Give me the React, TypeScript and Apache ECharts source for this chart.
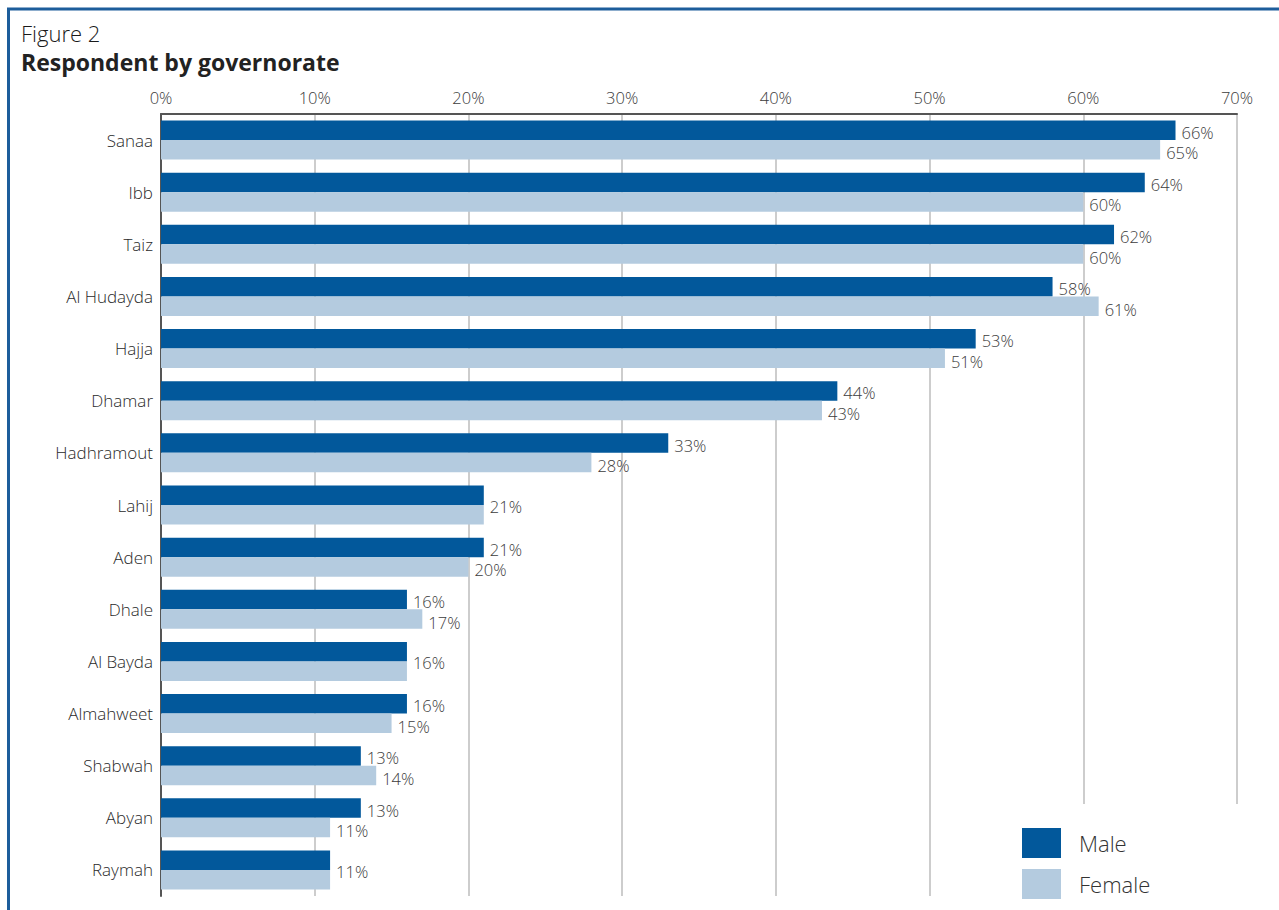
import React, { useEffect, useRef } from "react";
import * as echarts from "echarts";

const categories = [
  "Sanaa", "Ibb", "Taiz", "Al Hudayda", "Hajja", "Dhamar", "Hadhramout", "Lahij",
  "Aden", "Dhale", "Al Bayda", "Almahweet", "Shabwah", "Abyan", "Raymah",
];
const male = [66, 64, 62, 58, 53, 44, 33, 21, 21, 16, 16, 16, 13, 13, 11];
const female = [65, 60, 60, 61, 51, 43, 28, 21, 20, 17, 16, 15, 14, 11, 11];
const xMin = 0;
const xMax = 70;
const xStep = 10;

const FONT = "'Open Sans', 'Noto Sans', sans-serif";
const DARK = "#02589B";
const LIGHT = "#B4CBDF";
const LABEL = "#3c3c3c";

export default function App() {
  const ref = useRef<HTMLDivElement>(null);
  useEffect(() => {
    if (!ref.current) return;
    const chart = echarts.init(ref.current, undefined, { renderer: "svg" });
    const same = male.map((m, i) => m === female[i]);
    const maleData = male.map((v, i) => ({
      value: v,
      label: { offset: same[i] ? [0, 11] : [0, 2] },
    }));
    const femaleData = female.map((v, i) => ({
      value: v,
      label: { show: !same[i], offset: [0, 3] },
    }));
    const labelCommon = {
      show: true,
      position: "right",
      distance: 6,
      color: LABEL,
      fontSize: 16.5,
      fontWeight: 300,
      fontFamily: FONT,
      formatter: (p: any) => `${p.value}%`,
    };
    chart.setOption({
      animation: false,
      textStyle: { fontFamily: FONT },
      title: [
        {
          text: "Figure 2",
          left: 21,
          top: 22,
          padding: 0,
          textStyle: { fontSize: 22, fontWeight: 300, color: "#1a1a1a", fontFamily: FONT },
        },
        {
          text: "Respondent by governorate",
          left: 21,
          top: 50,
          padding: 0,
          textStyle: { fontSize: 23, fontWeight: "bold", color: "#222", fontFamily: FONT },
        },
      ],
      legend: {
        orient: "vertical",
        left: 1022,
        top: 828,
        padding: 0,
        itemWidth: 39,
        itemHeight: 30,
        itemGap: 11,
        icon: "rect",
        z: 20,
        textStyle: {
          fontSize: 22,
          fontWeight: 300,
          color: "#333",
          fontFamily: FONT,
          padding: [0, 0, 0, 13],
        },
        data: ["Male", "Female"],
      },
      graphic: [
        {
          type: "rect",
          z: 10,
          silent: true,
          shape: { x: 1000, y: 804, width: 300, height: 120 },
          style: { fill: "#fff" },
        },
        {
          type: "rect",
          z: 30,
          silent: true,
          shape: { x: 8.5, y: 9, width: 1300, height: 1000 },
          style: { fill: "none", stroke: "#1D5D9B", lineWidth: 3 },
        },
      ],
      grid: { left: 161, top: 114, width: 1076, height: 782, containLabel: false },
      xAxis: {
        type: "value",
        position: "top",
        min: xMin,
        max: xMax,
        interval: xStep,
        axisLine: { show: true, lineStyle: { color: "#555", width: 2 } },
        axisTick: { show: false },
        axisLabel: {
          margin: 8,
          fontSize: 16.5,
          fontWeight: 300,
          color: LABEL,
          fontFamily: FONT,
          formatter: (v: number) => `${v}%`,
        },
        splitLine: { show: true, lineStyle: { color: "#BDBDBD", width: 1.5 } },
      },
      yAxis: {
        type: "category",
        inverse: true,
        data: categories,
        axisLine: { show: true, lineStyle: { color: "#555", width: 2 } },
        axisTick: { show: false },
        axisLabel: {
          margin: 8,
          fontSize: 17,
          fontWeight: 300,
          color: "#2a2a2a",
          fontFamily: FONT,
        },
      },
      series: [
        {
          name: "Male",
          type: "bar",
          data: maleData,
          barWidth: 19.5,
          barGap: "0%",
          itemStyle: { color: DARK },
          label: labelCommon,
          z: 2,
        },
        {
          name: "Female",
          type: "bar",
          data: femaleData,
          barWidth: 19.5,
          barGap: "0%",
          itemStyle: { color: LIGHT },
          label: labelCommon,
          z: 2,
        },
      ],
    });
    return () => chart.dispose();
  }, []);
  return (
    <div
      ref={ref}
      style={{ position: "fixed", left: 0, top: 0, width: 1279, height: 910, background: "#fff" }}
    />
  );
}
